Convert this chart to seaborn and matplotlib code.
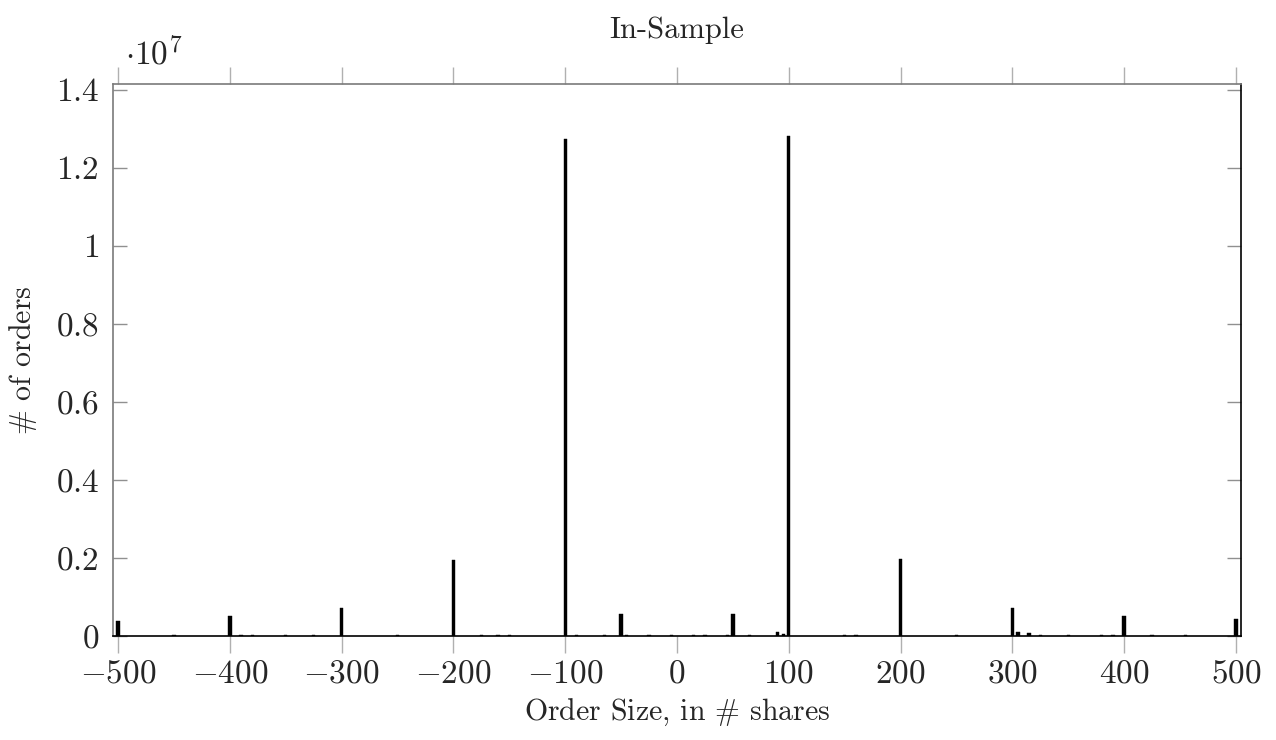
import numpy as np
import pandas as pd
import matplotlib
matplotlib.use("Agg")
import matplotlib.pyplot as plt
import seaborn as sns
from matplotlib.ticker import FuncFormatter, FixedLocator

# ---- data (order size in shares, number of orders) ----
sizes = [-500, -450, -390, -400, -380, -350, -325, -300, -250, -200,
         -175, -160, -150, -100, -90, -65, -50, -45, -25, -5,
         15, 25, 45, 50, 65, 90, 95, 100, 150, 160,
         200, 250, 300, 305, 315, 325, 350, 380, 390, 400,
         425, 455, 500]
counts = [390000, 20000, 25000, 510000, 20000, 20000, 25000, 730000, 15000, 1950000,
          15000, 20000, 25000, 12730000, 15000, 15000, 560000, 25000, 30000, 15000,
          15000, 30000, 20000, 570000, 20000, 90000, 40000, 12820000, 20000, 30000,
          1970000, 15000, 730000, 90000, 80000, 20000, 15000, 15000, 20000, 510000,
          15000, 15000, 440000]

x_ticks = [-500, -400, -300, -200, -100, 0, 100, 200, 300, 400, 500]
y_ticks = [0, 0.2e7, 0.4e7, 0.6e7, 0.8e7, 1.0e7, 1.2e7, 1.4e7]

title = "In-Sample"
xlabel = r"Order Size, in $\#$ shares"
ylabel = r"$\#$ of orders"

df = pd.DataFrame({"size": sizes, "count": counts})

sns.set_style("white")
plt.rcParams["font.family"] = ["cmr10"]
plt.rcParams["mathtext.fontset"] = "cm"
plt.rcParams["axes.formatter.use_mathtext"] = True

fig = plt.figure(figsize=(12.76, 7.40), dpi=100)
ax = fig.add_axes([113/1276, 1 - 636/740, (1241 - 113)/1276, (636 - 84)/740])

bar_w = 3.0
min_gap = np.min(np.diff(np.sort(np.unique(sizes))))
sns.barplot(data=df, x="size", y="count", native_scale=True, color="black",
            width=bar_w / min_gap, errorbar=None, ax=ax, saturation=1,
            edgecolor="black", linewidth=0.3)

ax.set_xlim(-504.5, 504.5)
ax.set_ylim(0, 1.415e7)

ax.xaxis.set_major_locator(FixedLocator(x_ticks))
ax.yaxis.set_major_locator(FixedLocator(y_ticks))
ax.xaxis.set_major_formatter(FuncFormatter(lambda v, p: r"$%d$" % round(v)))

def yfmt(v, p):
    s = "%g" % round(v / 1e7, 2)
    return r"$%s$" % s
ax.yaxis.set_major_formatter(FuncFormatter(yfmt))

ax.tick_params(axis="x", which="major", direction="out", length=12, width=1,
               color="#b0b0b0", top=True, bottom=True, labelsize=24, pad=5)
ax.tick_params(axis="y", which="major", direction="in", length=10, width=1,
               color="#909090", left=True, right=True, labelsize=24, pad=10)

for side in ["left", "top"]:
    ax.spines[side].set_color("#7a7a7a")
    ax.spines[side].set_linewidth(1.2)
for side in ["right", "bottom"]:
    ax.spines[side].set_color("black")
    ax.spines[side].set_linewidth(1.2)

ax.set_xlabel(xlabel, fontsize=21.5, labelpad=6)
ax.set_ylabel(ylabel, fontsize=21.5, labelpad=12)
ax.set_title(title, fontsize=22, pad=33)
ax.text(0.011, 1.025, r"$\cdot 10^{7}$", transform=ax.transAxes, fontsize=24,
        ha="left", va="bottom")

fig.savefig("out.png", dpi=100)
